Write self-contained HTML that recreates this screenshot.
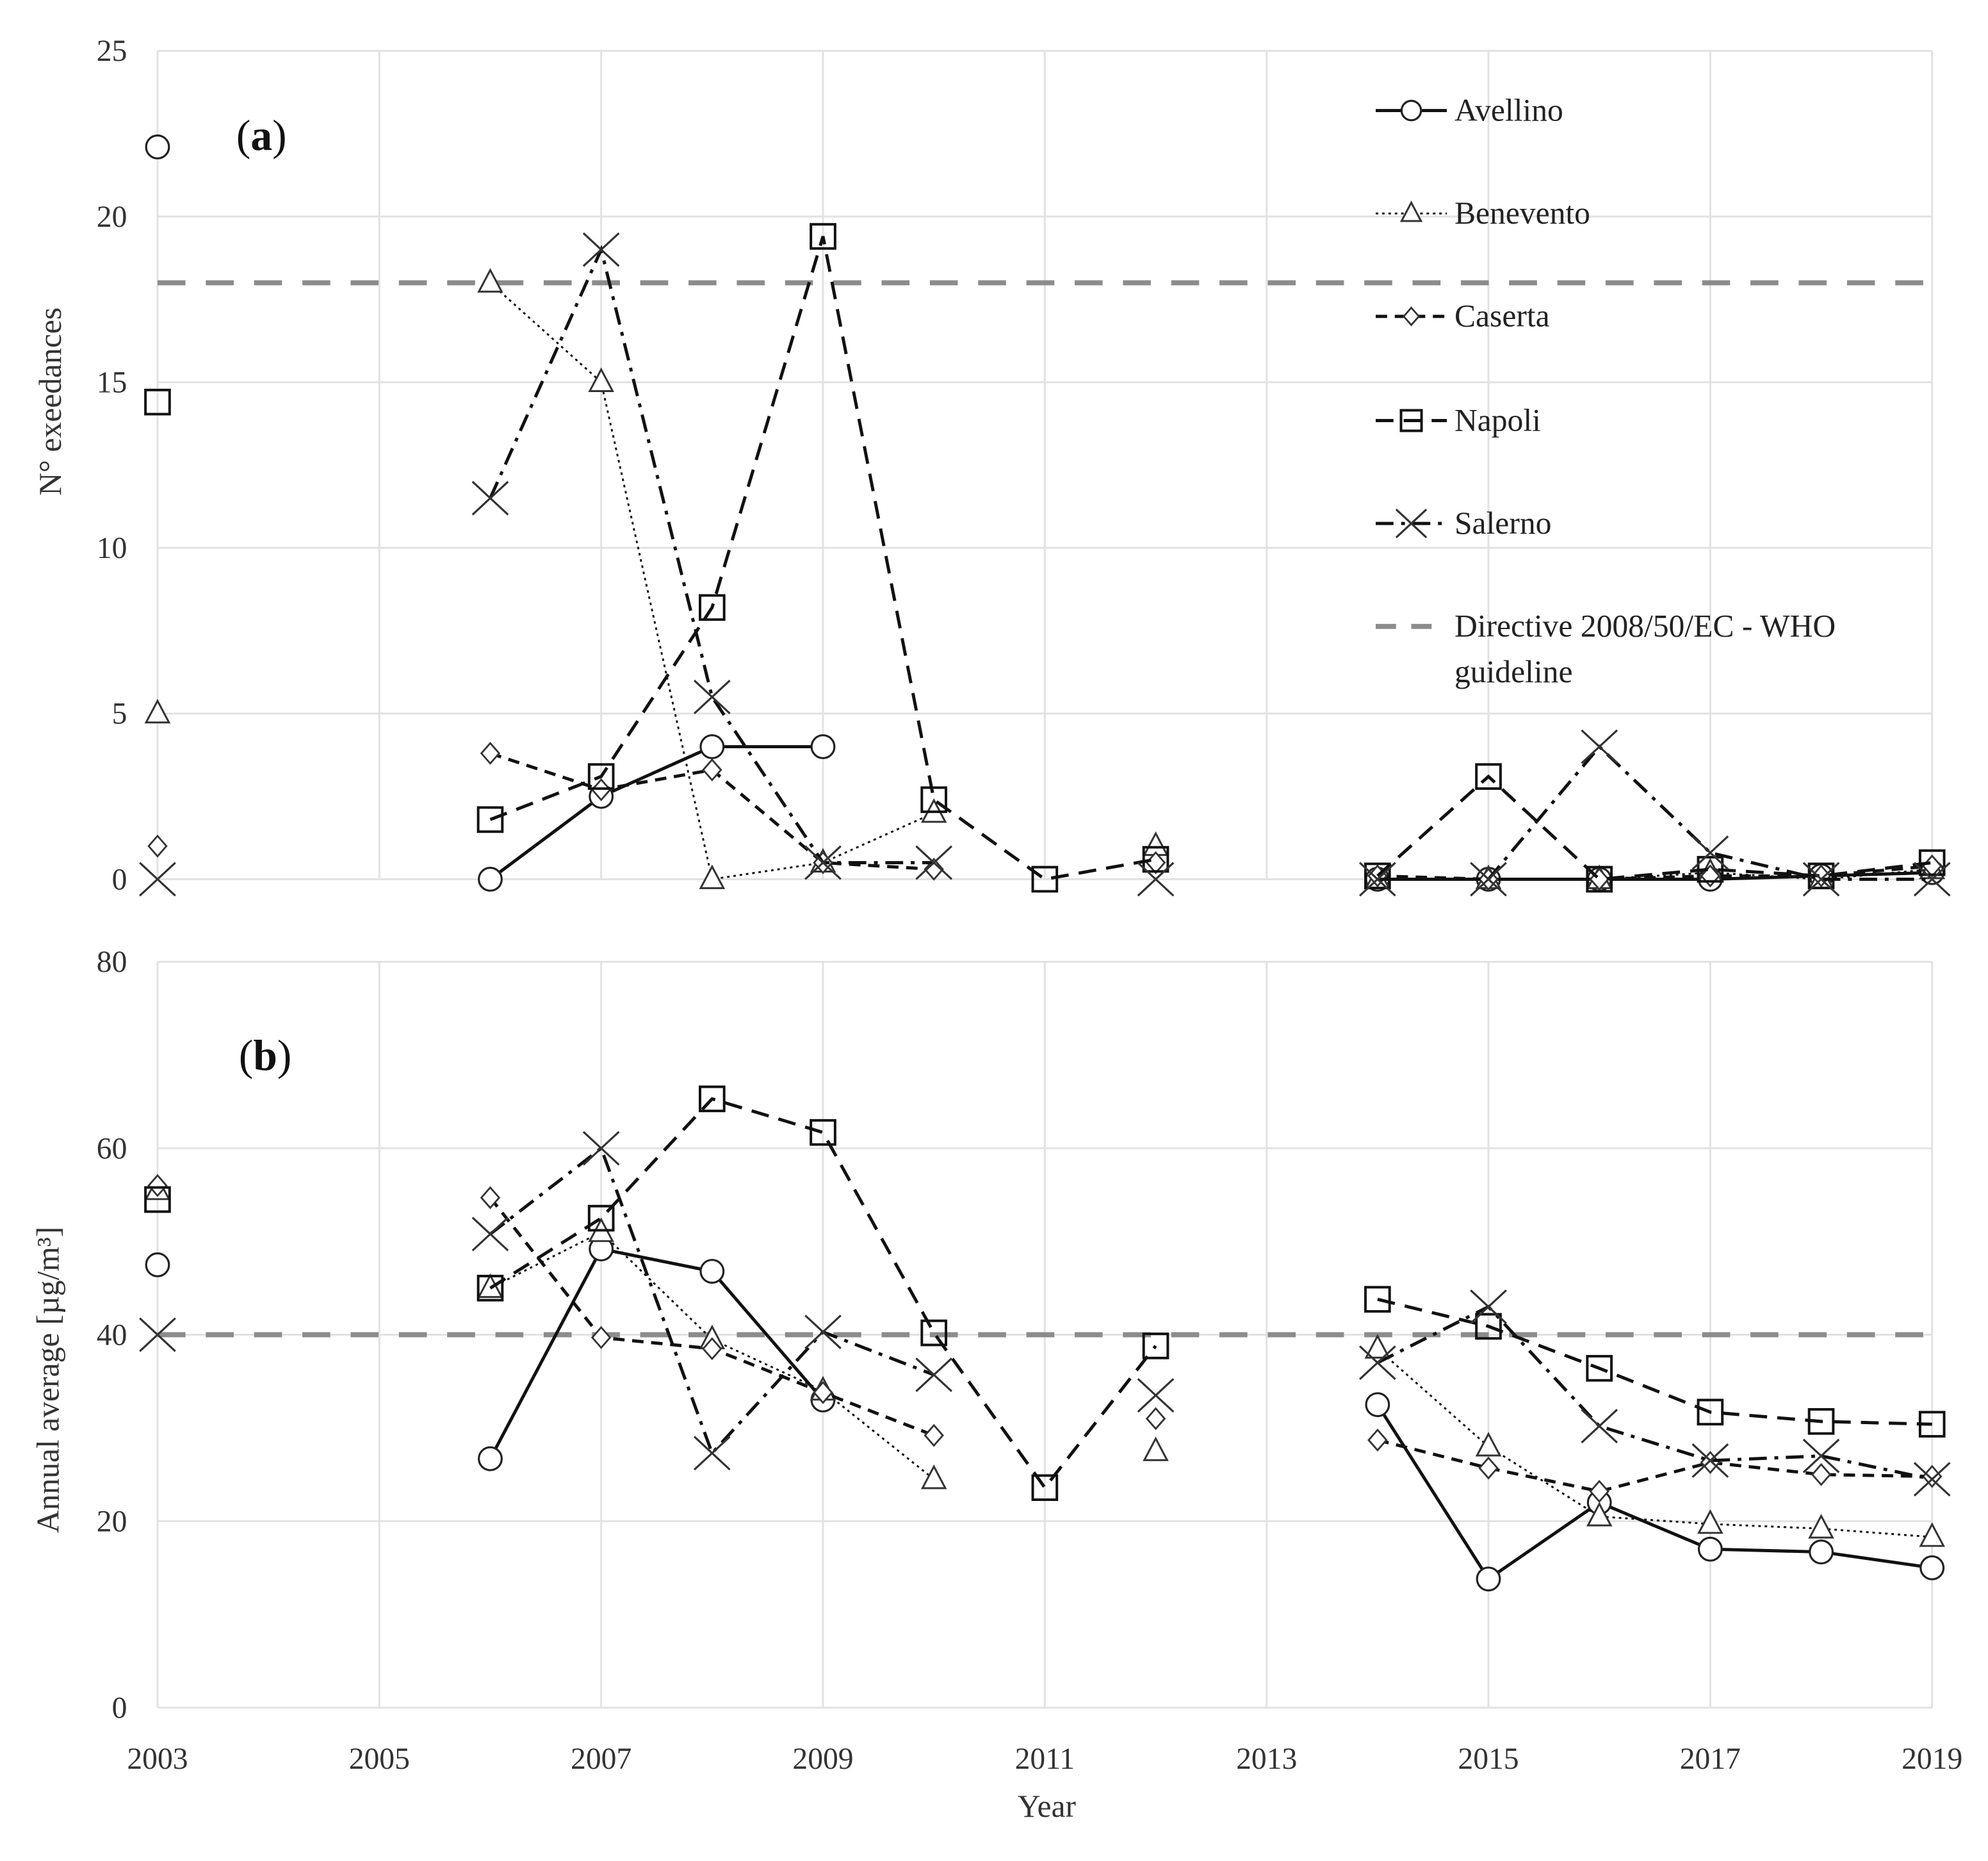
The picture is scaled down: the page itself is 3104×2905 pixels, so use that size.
<!DOCTYPE html>
<html><head><meta charset="utf-8"><style>
html,body{margin:0;padding:0;background:#fff;}
svg{display:block;font-family:"Liberation Serif",serif;}
</style></head><body>
<svg id="chart" width="3104" height="2905" viewBox="0 0 1565 1464.7" xmlns="http://www.w3.org/2000/svg">
<g id="grid"></g>
<g id="series"></g>
<g id="labels"></g>
</svg>
<script>
const years = [2003,2006,2007,2008,2009,2010,2011,2012,2014,2015,2016,2017,2018,2019];
const xTicks = [2003,2005,2007,2009,2011,2013,2015,2017,2019];
const yTicksA = [0,5,10,15,20,25];
const yTicksB = [0,20,40,60,80];
const limitA = 18;
const limitB = 40;
// panel a: exceedances (null = missing)
const aAvellino = [22.1,0,2.5,4,4,null,null,null,0,0,0,0,0.1,0.2];
const aBenevento = [5,18,15,0,0.5,2,null,1,0,0,0,0.2,0,0.3];
const aCaserta = [1,3.8,2.7,3.3,0.5,0.3,null,0.5,0.1,0,0,0.1,0.1,0.4];
const aNapoli = [14.4,1.8,3.1,8.2,19.4,2.4,0,0.6,0.1,3.1,0,0.3,0.1,0.5];
const aSalerno = [0,11.5,19,5.5,0.5,0.5,null,0,0,0,4,0.8,0,0];
// panel b: annual average
const bAvellino = [47.5,26.7,49.2,46.8,33,null,null,null,32.5,13.8,22,17,16.7,15];
const bBenevento = [55.5,45,51,39.5,34,24.5,null,27.5,38.5,28,20.5,19.7,19.2,18.3];
const bCaserta = [56,54.7,39.7,38.5,33.8,29.2,null,31,28.7,25.7,23.2,26.3,25,24.8];
const bNapoli = [54.5,45,52.5,65.3,61.7,40.2,23.6,38.8,43.8,40.9,36.4,31.7,30.7,30.4];
const bSalerno = [40,50.8,60,27.3,40.3,35.7,null,33.5,37,43,30.2,26.5,27,24.5];

const NS="http://www.w3.org/2000/svg";
const X0=124,X1=1521;
function xs(y){return X0+(y-2003)*(X1-X0)/16;}
const panels={a:{top:40,bot:692,max:25},b:{top:757,bot:1344,max:80}};
function ys(p,v){const P=panels[p];return P.bot-(v/P.max)*(P.bot-P.top);}
function mk(tag,attrs,parent){const e=document.createElementNS(NS,tag);for(const k in attrs)e.setAttribute(k,attrs[k]);parent.appendChild(e);return e;}
const grid=document.getElementById('grid'),ser=document.getElementById('series'),lab=document.getElementById('labels');

for(const p of ['a','b']){
  const P=panels[p];
  const ticks=p==='a'?yTicksA:yTicksB;
  for(const t of ticks){
    const g=mk('line',{x1:X0,x2:X1,y1:ys(p,t),y2:ys(p,t),stroke:'#e2e2e2','stroke-width':1.5},grid);
    
    
    const tx=mk('text',{x:100,y:ys(p,t)+8,'text-anchor':'end','font-size':24,fill:'#333'},lab);
    tx.textContent=t;
    
    
  }
  for(const t of xTicks){
    const g=mk('line',{x1:xs(t),x2:xs(t),y1:P.top,y2:P.bot,stroke:'#e2e2e2','stroke-width':1.5},grid);
    
    
  }
  const lim=p==='a'?limitA:limitB;
  const d=mk('line',{x1:X0,x2:X1,y1:ys(p,lim),y2:ys(p,lim),stroke:'#8c8c8c','stroke-width':4,'stroke-dasharray':'22 16'},ser);
  
  
}
for(const t of xTicks){
  const tx=mk('text',{x:xs(t),y:1392,'text-anchor':'middle','font-size':24,fill:'#333'},lab);
  tx.textContent=t;
  
  
}
const styles={
  Avellino:{dash:'none',w:2.5,m:'circle'},
  Benevento:{dash:'2 3',w:1.5,m:'tri'},
  Caserta:{dash:'9 6',w:2.5,m:'diamond'},
  Napoli:{dash:'14 8',w:2.5,m:'square'},
  Salerno:{dash:'14 6 3 6',w:2.5,m:'x'}
};
function marker(type,cx,cy,parent,s){
  s=s||1;let e;
  if(type==='circle')e=mk('circle',{cx,cy,r:9*s,fill:'#fff',stroke:'#222','stroke-width':1.6},parent);
  else if(type==='square')e=mk('rect',{x:cx-9.5*s,y:cy-9.5*s,width:19*s,height:19*s,fill:'none',stroke:'#111','stroke-width':2},parent);
  else if(type==='tri')e=mk('polygon',{points:`${cx},${cy-10*s} ${cx-9*s},${cy+7*s} ${cx+9*s},${cy+7*s}`,fill:'#fff',stroke:'#333','stroke-width':1.5},parent);
  else if(type==='diamond')e=mk('polygon',{points:`${cx},${cy-8*s} ${cx+7*s},${cy} ${cx},${cy+8*s} ${cx-7*s},${cy}`,fill:'#fff',stroke:'#333','stroke-width':1.4},parent);
  else e=mk('path',{d:`M${cx-14*s},${cy-13*s}L${cx+14*s},${cy+13*s}M${cx-14*s},${cy+13*s}L${cx+14*s},${cy-13*s}`,stroke:'#333','stroke-width':1.6,fill:'none'},parent);
  return e;
}
const data={a:{Avellino:aAvellino,Benevento:aBenevento,Caserta:aCaserta,Napoli:aNapoli,Salerno:aSalerno},
            b:{Avellino:bAvellino,Benevento:bBenevento,Caserta:bCaserta,Napoli:bNapoli,Salerno:bSalerno}};
for(const p of ['a','b']){
  for(const name of ['Avellino','Benevento','Caserta','Napoli','Salerno']){
    const vals=data[p][name],st=styles[name];
    const g=mk('g',{},ser);
    
    
    let seg=[];
    const flush=()=>{if(seg.length>1){const l=mk('polyline',{points:seg.join(' '),fill:'none',stroke:'#111','stroke-width':st.w,'stroke-dasharray':st.dash},g);
      
      }seg=[];};
    for(let i=0;i<years.length;i++){
      const v=vals[i];
      if(v===null||years[i]===2003){flush();continue;}
      if(seg.length&&years[i]-years[i-1]>1)flush();
      seg.push(xs(years[i])+','+ys(p,v));
    }
    flush();
    for(let i=0;i<years.length;i++){
      if(vals[i]===null)continue;
      const m=marker(st.m,xs(years[i]),ys(p,vals[i]),g);
      
      
    }
  }
}
const legendNames=['Avellino','Benevento','Caserta','Napoli','Salerno'];
const legendY=[87,168,249,331,412];
legendNames.forEach((n,i)=>{
  const g=mk('g',{},lab);
  
  
  const st=styles[n];
  mk('line',{x1:1083,x2:1139,y1:legendY[i],y2:legendY[i],stroke:'#111','stroke-width':st.w,'stroke-dasharray':st.dash},g);
  marker(st.m,1111,legendY[i],g,0.85);
  const t=mk('text',{x:1145,y:legendY[i]+8,'font-size':25,fill:'#222'},g);
  t.textContent=n;
});
{
  const g=mk('g',{},lab);
  
  
  mk('line',{x1:1083,x2:1139,y1:493,y2:493,stroke:'#8c8c8c','stroke-width':4,'stroke-dasharray':'16 12'},g);
  const t1=mk('text',{x:1145,y:501,'font-size':25,fill:'#222'},g);t1.textContent='Directive 2008/50/EC - WHO';
  const t2=mk('text',{x:1145,y:537,'font-size':25,fill:'#222'},g);t2.textContent='guideline';
}
</script>
<div style="position:absolute;left:0;top:0;width:3104px;height:2905px;pointer-events:none">
<svg width="3104" height="2905" viewBox="0 0 1565 1464.7" style="font-family:'Liberation Serif',serif">
<text x="186" y="118" font-size="34" fill="#111">(<tspan font-weight="bold">a</tspan>)</text>
<text x="188" y="842" font-size="34" fill="#111">(<tspan font-weight="bold">b</tspan>)</text>
<text transform="translate(48,316) rotate(-90)" text-anchor="middle" font-size="25" fill="#333">N° exeedances</text>
<text transform="translate(46,1086) rotate(-90)" text-anchor="middle" font-size="25" fill="#333">Annual  average [µg/m³]</text>
<text x="824" y="1430" text-anchor="middle" font-size="25" fill="#333">Year</text>
</svg></div>
</body></html>
